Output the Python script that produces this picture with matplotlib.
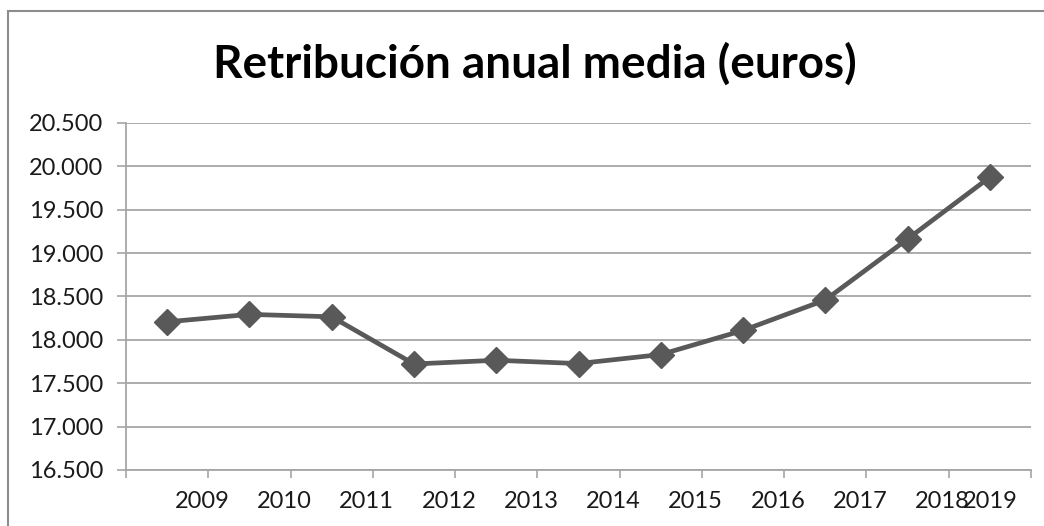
import matplotlib
matplotlib.use("Agg")
import matplotlib.pyplot as plt
import numpy as np
from matplotlib.patches import Rectangle
from matplotlib.ticker import FuncFormatter

years = ["2009", "2010", "2011", "2012", "2013", "2014", "2015", "2016", "2017", "2018", "2019"]
values = [18208, 18294, 18266, 17722, 17765, 17727, 17831, 18109, 18460, 19163, 19876]
title = "Retribución anual media (euros)"
y_ticks = [16500, 17000, 17500, 18000, 18500, 19000, 19500, 20000, 20500]

W, H = 1044, 526
fig = plt.figure(figsize=(W / 100, H / 100), dpi=100)
fig.patch.set_facecolor("white")

# outer chart frame (top and left visible)
fig.add_artist(Rectangle((8 / W, -0.1), 1.2, (1 - 11 / H) + 0.1, transform=fig.transFigure,
                         fill=False, edgecolor="#8c8c8c", linewidth=1.5))

ax = fig.add_axes([126 / W, 1 - 470 / H, (1031 - 126) / W, (470 - 123) / H])
x = np.arange(len(years))
ax.plot(x, values, color="#595959", linewidth=3.4, marker="D", markersize=13,
        markerfacecolor="#595959", markeredgecolor="#595959", zorder=3)

ax.set_xlim(-0.5, len(years) - 0.5)
ax.set_ylim(y_ticks[0], y_ticks[-1])
ax.set_yticks(y_ticks)
ax.yaxis.set_major_formatter(FuncFormatter(lambda v, p: f"{int(v):,}".replace(",", ".")))
ax.grid(axis="y", color="#a6a6a6", linewidth=1.3)
ax.set_axisbelow(True)

# category boundary ticks (major), labels on minor ticks
ax.set_xticks(np.arange(len(years) + 1) - 0.5)
ax.set_xticklabels([])
label_pos = list(np.arange(len(years) - 1) + 0.5 - 0.075) + [len(years) - 1]
ax.set_xticks(label_pos, minor=True)
ax.set_xticklabels(years, minor=True)
ax.tick_params(axis="x", which="major", length=6, width=1.2, color="#a6a6a6")
ax.tick_params(axis="x", which="minor", length=0, pad=15, labelsize=17, labelcolor="#1a1a1a")
ax.tick_params(axis="y", length=6.5, width=1.2, color="#a6a6a6", pad=10, labelsize=17,
               labelcolor="#1a1a1a")
for lbl in ax.get_xticklabels(minor=True) + ax.get_yticklabels():
    lbl.set_fontfamily("Lato")

for s in ["top", "right"]:
    ax.spines[s].set_visible(False)
for s in ["left", "bottom"]:
    ax.spines[s].set_color("#a6a6a6")
    ax.spines[s].set_linewidth(1.3)

fig.text(535 / W, 1 - 64 / H, title, ha="center", va="center", fontsize=33,
         fontweight="bold", fontfamily="Lato", color="#000000")

fig.savefig("out.png", dpi=100)
